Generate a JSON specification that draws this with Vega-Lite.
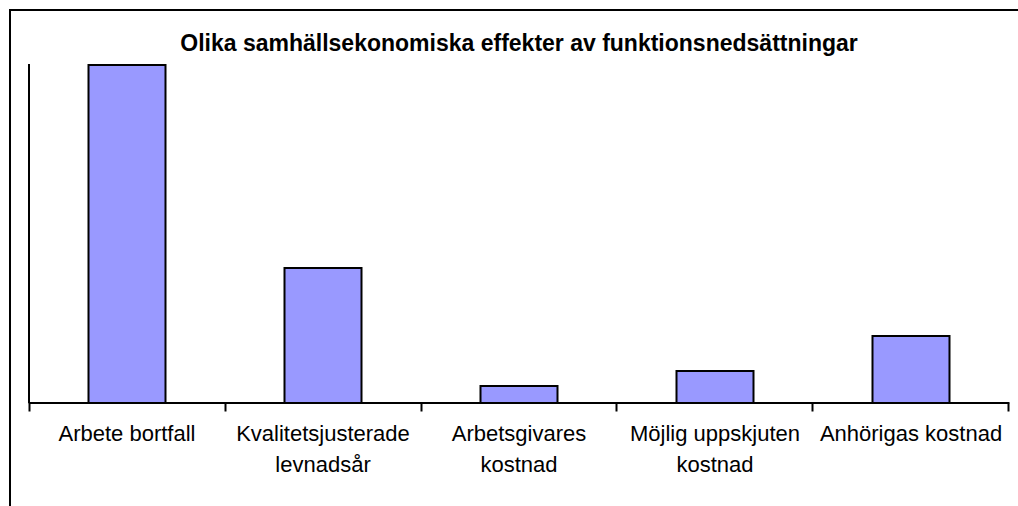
{
  "$schema": "https://vega.github.io/schema/vega-lite/v6.json",
  "autosize": "none",
  "padding": {"left": 10, "top": 10, "right": -4, "bottom": -4},
  "width": 1012,
  "height": 500,
  "background": "white",
  "title": {
    "text": "Olika samhällsekonomiska effekter av funktionsnedsättningar",
    "font": "Liberation Sans",
    "fontSize": 23,
    "fontWeight": "bold",
    "color": "black",
    "anchor": "middle",
    "baseline": "alphabetic",
    "offset": -43,
    "dy": 21,
    "dx": 3
  },
  "data": {
    "values": [
      {"cat": "Arbete bortfall", "v": 338},
      {"cat": "Kvalitetsjusterade|levnadsår", "v": 135},
      {"cat": "Arbetsgivares|kostnad", "v": 17},
      {"cat": "Möjlig uppskjuten|kostnad", "v": 32},
      {"cat": "Anhörigas kostnad", "v": 67}
    ]
  },
  "layer": [
    {
      "mark": {"type": "bar", "size": 77, "fill": "#9999FF", "stroke": "black", "strokeWidth": 2},
      "encoding": {
        "x": {
          "field": "cat", "type": "nominal", "sort": null,
          "scale": {"paddingInner": 0, "paddingOuter": 0.081633, "align": 0.59375},
          "axis": {
            "title": null, "domain": false, "ticks": true, "tickSize": 8, "tickWidth": 2, "tickColor": "black",
            "bandPosition": 1, "tickExtra": true, "offset": -107,
            "labelAngle": 0, "labelFont": "Liberation Sans", "labelFontSize": 22, "labelColor": "black",
            "labelLineHeight": 31, "labelPadding": 12, "labelLimit": 0, "labelOverlap": false, "labelFlush": false,
            "labelBaseline": "top",
            "labelExpr": "isValid(datum.value) ? split(datum.value, '|') : ''"
          }
        },
        "y": {
          "field": "v", "type": "quantitative",
          "scale": {"domain": [-107, 393], "nice": false, "zero": false},
          "axis": null
        },
        "y2": {"datum": 0}
      }
    },
    {
      "mark": {"type": "tick", "orient": "horizontal", "size": 197, "thickness": 2, "color": "black", "opacity": 1},
      "encoding": {
        "x": {"field": "cat", "type": "nominal", "sort": null},
        "y": {"datum": 0, "type": "quantitative"}
      }
    },
    {
      "transform": [{"filter": "datum.cat == 'Arbete bortfall'"}],
      "mark": {"type": "rule", "color": "black", "strokeWidth": 2},
      "encoding": {
        "x": {"field": "cat", "type": "nominal", "sort": null, "bandPosition": 0},
        "y": {"datum": 0, "type": "quantitative"},
        "y2": {"datum": 339}
      }
    }
  ],
  "config": {
    "view": {"stroke": "black", "strokeWidth": 2},
    "font": "Liberation Sans"
  }
}
